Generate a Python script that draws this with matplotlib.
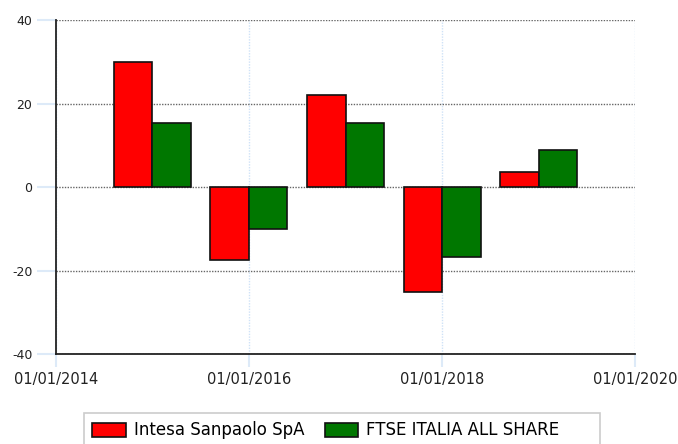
import datetime as dt
import matplotlib
matplotlib.use('Agg')
import matplotlib.pyplot as plt
import matplotlib.dates as mdates
from matplotlib.patches import Rectangle

years = [2015, 2016, 2017, 2018, 2019]
intesa = [30.0, -17.5, 22.0, -25.1, 3.5]
ftse = [15.3, -10.1, 15.3, -16.8, 8.9]
tick_years = [2014, 2016, 2018, 2020]
series_names = ['Intesa Sanpaolo SpA', 'FTSE ITALIA ALL SHARE']

plt.rcParams['font.family'] = ['DejaVu Sans']
plt.rcParams['axes.unicode_minus'] = False

fig = plt.figure(figsize=(6.78, 4.44), dpi=100)
ax = fig.add_axes([56 / 678, 1 - 354 / 444, (635 - 56) / 678, (354 - 20) / 444])

dates = [dt.date(y, 1, 1) for y in years]
width = dt.timedelta(days=146)
# red to the left of each date, green to the right
ax.bar(dates, intesa, width=-width, align='edge', color='#ff0000', edgecolor='#111111',
       linewidth=1.2, label=series_names[0], zorder=3)
ax.bar(dates, ftse, width=width, align='edge', color='#007700', edgecolor='#111111',
       linewidth=1.2, label=series_names[1], zorder=3)

ax.set_xlim(dt.date(2014, 1, 1), dt.date(2020, 1, 1))
ax.set_ylim(-40, 40)
ax.set_xticks([dt.date(y, 1, 1) for y in tick_years])
ax.xaxis.set_major_formatter(mdates.DateFormatter('%d/%m/%Y'))
ax.set_yticks([-40, -20, 0, 20, 40])

ax.yaxis.grid(True, linestyle=(0, (1, 1)), color='#666666', linewidth=1, zorder=1)
ax.xaxis.grid(True, linestyle=(0, (1, 1)), color='#cfe2f7', linewidth=1, zorder=1)

for s in ['top', 'right']:
    ax.spines[s].set_visible(False)
for s in ['left', 'bottom']:
    ax.spines[s].set_color('#222222')
    ax.spines[s].set_linewidth(1.3)
    ax.spines[s].set_zorder(4)

ax.tick_params(axis='y', length=14, width=1.5, color='#ddeaf8', pad=3,
               labelsize=9, labelcolor='#222222')
ax.tick_params(axis='x', length=9, width=1.5, color='#ddeaf8', pad=4,
               labelsize=10.5, labelcolor='#222222')

# legend box is wider than its entries, so draw the frame separately
fig.patches.append(Rectangle((84 / 678, -0.02), 516 / 678, 0.02 + 1 - 413 / 444,
                             transform=fig.transFigure, facecolor='white',
                             edgecolor='#cccccc', linewidth=1.2))
leg = fig.legend(loc='upper left', ncol=2,
                 bbox_to_anchor=(84 / 678, 1 - 413 / 444),
                 fontsize=12, frameon=False, handlelength=2.0,
                 handleheight=0.9, handletextpad=0.5, borderaxespad=0,
                 borderpad=0.5, columnspacing=1.2)

fig.savefig('out.png', dpi=100)
